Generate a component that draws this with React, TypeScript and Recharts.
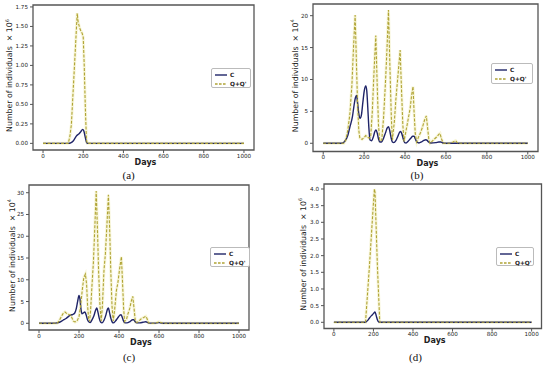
// Four panels: C and Q+Q' over 1000 days, under different control settings.

import { LineChart, Line, XAxis, YAxis, ReferenceArea, Legend } from "recharts";

const DAY_TICKS = [0, 200, 400, 600, 800, 1000];
const C_COLOR = "#1f2468";
const Q_COLOR = "#b0a436";
const HALO = "#f8f6da";
const FONT = "'DejaVu Sans', sans-serif";

// (a) values x10^6
const aCDays = [0, 125, 140, 150, 160, 168, 178, 188, 197, 203, 210, 217, 222, 1000];
const aCVals = [0, 0, 0.01, 0.03, 0.07, 0.1, 0.12, 0.15, 0.18, 0.16, 0.08, 0.01, 0, 0];
const aQDays = [0, 125, 133, 141, 150, 160, 170, 175, 185, 195, 200, 205, 210, 216, 220, 1000];
const aQVals = [0, 0, 0.08, 0.24, 0.68, 1.17, 1.67, 1.55, 1.46, 1.41, 1.36, 1.0, 0.5, 0.05, 0, 0];
const aTicks = [0, 0.25, 0.5, 0.75, 1, 1.25, 1.5, 1.75];

// (b) values x10^4
const bCDays = [0, 90, 105, 120, 130, 143, 150, 157, 163, 168, 174, 180, 187, 194, 201, 208, 213, 218, 223, 229, 236, 245, 252, 258, 264, 270, 277, 285, 295, 305, 313, 319, 325, 331, 338, 345, 355, 365, 373, 379, 385, 391, 398, 405, 415, 428, 438, 444, 450, 458, 468, 480, 492, 502, 508, 515, 525, 550, 565, 575, 585, 600, 1000];
const bCVals = [0, 0, 0.3, 1.2, 2.5, 4.2, 5.8, 7.1, 7.5, 6.3, 4.6, 3.9, 4.5, 6.5, 8.3, 9.0, 8.2, 5.5, 2.5, 0.5, 0.4, 1.0, 1.8, 2.1, 1.6, 0.7, 0.2, 0.2, 0.8, 1.7, 2.4, 2.6, 2.0, 1.0, 0.2, 0.1, 0.4, 1.1, 1.7, 1.85, 1.4, 0.7, 0.1, 0.05, 0.3, 0.8, 1.1, 1.1, 0.7, 0.2, 0.05, 0.2, 0.45, 0.55, 0.45, 0.2, 0.05, 0.1, 0.2, 0.2, 0.05, 0, 0];
const bQDays = [0, 100, 110, 120, 130, 140, 148, 156, 162, 168, 174, 179, 190, 200, 208, 215, 224, 232, 240, 248, 257, 264, 270, 276, 286, 295, 305, 312, 319, 326, 333, 338, 348, 355, 365, 376, 382, 389, 395, 405, 416, 425, 432, 439, 444, 450, 457, 466, 476, 485, 495, 504, 510, 516, 522, 532, 541, 555, 565, 571, 578, 587, 620, 635, 647, 655, 665, 1000];
const bQVals = [0, 0, 0.5, 2, 4.5, 9, 15, 20.1, 13, 6, 2, 0.8, 0.6, 0.9, 1.2, 1.0, 0.8, 1.0, 5, 11, 16.9, 9, 3, 0.4, 0.5, 4, 10, 15, 20.9, 12, 4, 0.5, 3.5, 6.8, 10.5, 14.6, 9, 3, 0.3, 2, 3.9, 5.5, 7.5, 8.9, 5, 1.5, 0.2, 1, 1.7, 2.5, 3.6, 4.3, 2.5, 0.7, 0, 0.3, 0.6, 1.0, 1.4, 1.55, 0.7, 0, 0, 0.2, 0.4, 0.1, 0, 0];
const bTicks = [0, 5, 10, 15, 20];

// (c) values x10^4
const cCDays = [0, 75, 90, 105, 120, 135, 148, 158, 168, 178, 186, 193, 200, 205, 210, 215, 222, 229, 235, 242, 250, 256, 265, 275, 283, 289, 295, 301, 308, 315, 325, 335, 342, 347, 353, 359, 366, 372, 382, 393, 403, 410, 416, 422, 430, 440, 455, 468, 474, 480, 490, 505, 520, 534, 542, 555, 580, 600, 612, 625, 1000];
const cCVals = [0, 0, 0.1, 0.3, 0.7, 1.1, 1.6, 1.9, 2.0, 2.3, 3.3, 5.0, 6.4, 5.5, 3.2, 2.2, 2.4, 2.6, 2.0, 0.9, 0.3, 0.2, 0.8, 1.8, 3.0, 3.5, 2.5, 1.2, 0.3, 0.1, 0.7, 2.0, 3.2, 3.5, 2.4, 1.2, 0.3, 0.1, 0.5, 1.2, 1.8, 2.0, 1.4, 0.6, 0.1, 0.1, 0.4, 0.8, 0.8, 0.4, 0.1, 0.1, 0.25, 0.35, 0.2, 0.05, 0.05, 0.15, 0.05, 0, 0];
const cQDays = [0, 90, 100, 110, 120, 130, 140, 150, 158, 165, 172, 180, 190, 200, 208, 216, 224, 232, 238, 243, 248, 253, 258, 265, 272, 279, 286, 292, 298, 305, 311, 317, 325, 332, 339, 347, 353, 359, 365, 371, 378, 387, 395, 403, 412, 418, 423, 428, 438, 445, 453, 461, 469, 475, 482, 490, 500, 510, 522, 534, 540, 547, 565, 580, 592, 600, 608, 620, 1000];
const cQVals = [0, 0, 0.5, 1.4, 2.2, 2.6, 2.2, 2.0, 1.9, 1.2, 0.5, 0.3, 0.5, 1.5, 4, 7.5, 10.5, 11.3, 9, 4, 1.2, 0.4, 3, 8.8, 14, 22, 30.4, 22, 12, 4, 0.5, 4, 12.2, 16, 22, 29.5, 22, 12, 4, 0.5, 3, 7.5, 9.5, 12.5, 15.3, 9, 3.5, 0.4, 1, 2.2, 3.3, 5, 6.2, 3.5, 0.3, 0.2, 0.5, 1.0, 1.3, 1.6, 1.1, 0.1, 0, 0, 0.2, 0.35, 0.2, 0, 0];
const cTicks = [0, 5, 10, 15, 20, 25, 30];

// (d) values x10^6
const dCDays = [0, 158, 170, 180, 190, 200, 208, 214, 220, 226, 232, 1000];
const dCVals = [0, 0, 0.05, 0.13, 0.2, 0.26, 0.31, 0.2, 0.08, 0.01, 0, 0];
const dQDays = [0, 160, 180, 198, 205, 208, 220, 232, 1000];
const dQVals = [0, 0, 1.7, 3.4, 4.0, 3.9, 1.7, 0, 0];
const dTicks = [0, 0.5, 1, 1.5, 2, 2.5, 3, 3.5, 4];

const pts = (days: number[], vals: number[]) => days.map((d, i) => ({ day: d, v: vals[i] }));

const TICK = { fill: "#222", fontSize: 5.6, fontFamily: FONT };

function LegendBox() {
  const row = (dash: boolean, color: string, text: string) => (
    <div style={{ display: "flex", alignItems: "center", height: 9 }}>
      <svg width={14} height={6} style={{ marginLeft: 3 }}>
        <line x1={0} y1={3} x2={12} y2={3} stroke={color} strokeWidth={1.4} strokeDasharray={dash ? "2.6 1.4" : undefined} />
      </svg>
      <span style={{ fontSize: 5.8, fontWeight: "bold", color: "#222", fontFamily: FONT, marginLeft: 1 }}>{text}</span>
    </div>
  );
  return (
    <div style={{ border: "1px solid #bbb", borderRadius: 2, background: "#fff", width: "100%", height: "100%", boxSizing: "border-box", paddingTop: 1 }}>
      {row(false, C_COLOR, "C")}
      {row(true, Q_COLOR, "Q+Q'")}
    </div>
  );
}

type PanelProps = {
  frame: [number, number, number, number]; // left, top, right, bottom
  yDomain: [number, number];
  yTicks: number[];
  fmt: (v: number) => string;
  exp: string;
  labelGap: number;
  legend: [number, number, number, number];
  c: { day: number; v: number }[];
  q: { day: number; v: number }[];
};

function Panel(p: PanelProps) {
  const YW = 36, XH = 26, TP = 4, RP = 4;
  const [fl, ft, fr, fb] = p.frame;
  const left = fl - YW;
  const top = ft - TP;
  const width = fr - fl + YW + RP;
  const height = fb - ft + TP + XH;
  const [lx, ly, lw, lh] = p.legend;
  return (
    <div style={{ position: "absolute", left, top }}>
      <LineChart width={width} height={height} margin={{ top: TP, right: RP, bottom: 0, left: 0 }}>
        <XAxis
          type="number"
          dataKey="day"
          domain={[-50, 1050]}
          ticks={DAY_TICKS}
          allowDataOverflow
          height={XH}
          tick={TICK}
          tickSize={3}
          tickMargin={1}
          tickLine={{ stroke: "#555" }}
          axisLine={false}
          label={({ viewBox }: any) => (
            <text x={viewBox.x + viewBox.width / 2 + 2} y={viewBox.y + 14.5} textAnchor="middle" fontSize={8} fontWeight="bold" fill="#222" fontFamily={FONT}>
              Days
            </text>
          )}
        />
        <YAxis
          type="number"
          domain={p.yDomain}
          ticks={p.yTicks}
          allowDataOverflow
          width={YW}
          tick={TICK}
          tickSize={3}
          tickMargin={2}
          tickFormatter={p.fmt}
          tickLine={{ stroke: "#555" }}
          axisLine={false}
          label={({ viewBox }: any) => {
            const x = viewBox.x + viewBox.width - p.labelGap;
            const y = viewBox.y + viewBox.height / 2 - 2;
            return (
              <text x={x} y={y} transform={`rotate(-90 ${x} ${y})`} textAnchor="middle" dominantBaseline="central" fontSize={7.8} fill="#1a1a1a" fontFamily={FONT}>
                Number of individuals {"\u00a0"}× 10<tspan fontSize={5} dy={-3}>{p.exp}</tspan>
              </text>
            );
          }}
        />
        <ReferenceArea x1={-50} x2={1050} y1={p.yDomain[0]} y2={p.yDomain[1]} fill="none" stroke="#555" strokeWidth={1.3} ifOverflow="visible" />
        <Line data={p.q} dataKey="v" type="linear" stroke={HALO} strokeWidth={3} dot={false} legendType="none" isAnimationActive={false} />
        <Line data={p.c} dataKey="v" name="C" type="monotone" stroke={C_COLOR} strokeWidth={1.4} dot={false} isAnimationActive={false} />
        <Line data={p.q} dataKey="v" name="Q+Q'" type="linear" stroke={Q_COLOR} strokeWidth={1.1} strokeDasharray="3 1.5" dot={false} isAnimationActive={false} />
        <Legend
          layout="horizontal"
          verticalAlign="middle"
          align="center"
          width={lw}
          height={lh}
          wrapperStyle={{ left: lx - left, top: ly - top, width: lw, height: lh }}
          content={() => <LegendBox />}
        />
      </LineChart>
    </div>
  );
}

const CAPTION: React.CSSProperties = {
  position: "absolute",
  fontFamily: "'Liberation Serif', serif",
  fontSize: 11,
  color: "#111",
  transform: "translate(-50%, -50%)",
};

export default function App() {
  return (
    <div style={{ position: "absolute", left: 0, top: 0, width: 550, height: 365, background: "#fff", overflow: "hidden" }}>
      <Panel
        frame={[33, 5, 254, 150]}
        yDomain={[-0.085, 1.775]}
        yTicks={aTicks}
        fmt={(v) => v.toFixed(2)}
        exp="6"
        labelGap={23.5}
        legend={[211, 68, 40, 20]}
        c={pts(aCDays, aCVals)}
        q={pts(aQDays, aQVals)}
      />
      <Panel
        frame={[313, 4, 538, 151.5]}
        yDomain={[-1.29, 21.83]}
        yTicks={bTicks}
        fmt={(v) => String(v)}
        exp="4"
        labelGap={17.6}
        legend={[491, 63, 42, 21]}
        c={pts(bCDays, bCVals)}
        q={pts(bQDays, bQVals)}
      />
      <Panel
        frame={[29, 185, 249, 330]}
        yDomain={[-1.54, 31.77]}
        yTicks={cTicks}
        fmt={(v) => String(v)}
        exp="4"
        labelGap={16.6}
        legend={[210, 247, 40, 20]}
        c={pts(cCDays, cCVals)}
        q={pts(cQDays, cQVals)}
      />
      <Panel
        frame={[324, 184, 541.5, 328.5]}
        yDomain={[-0.186, 4.15]}
        yTicks={dTicks}
        fmt={(v) => v.toFixed(1)}
        exp="6"
        labelGap={21}
        legend={[496, 247, 38, 19]}
        c={pts(dCDays, dCVals)}
        q={pts(dQDays, dQVals)}
      />
      <div style={{ ...CAPTION, left: 128.7, top: 175 }}>(a)</div>
      <div style={{ ...CAPTION, left: 417, top: 175 }}>(b)</div>
      <div style={{ ...CAPTION, left: 129, top: 357 }}>(c)</div>
      <div style={{ ...CAPTION, left: 415.5, top: 357 }}>(d)</div>
    </div>
  );
}
